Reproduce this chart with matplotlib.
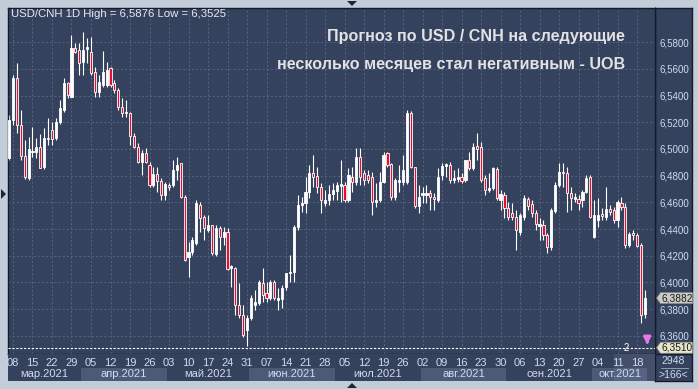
import matplotlib.pyplot as plt
import matplotlib.transforms as mtransforms
from matplotlib.patches import Polygon, Rectangle
import numpy as np
import pandas as pd

plt.rcParams['font.family'] = ['Liberation Sans', 'DejaVu Sans']

# daily candles USD/CNH, 05.03.2021 - 20.10.2021
dates = pd.bdate_range("2021-03-05", "2021-10-20")

opens = [
    6.4932, 6.5218, 6.5533, 6.5180, 6.4948, 6.4783, 6.4978, 6.4978, 6.5015, 6.4865,
    6.5075, 6.5143, 6.5083, 6.5203, 6.5293, 6.5495, 6.5390, 6.5758, 6.5743, 6.5653,
    6.5750, 6.5728, 6.5578, 6.5428, 6.5480, 6.5480, 6.5608, 6.5495, 6.5443, 6.5315,
    6.5270, 6.5270, 6.5098, 6.5015, 6.4903, 6.4970, 6.4880, 6.4730, 6.4813, 6.4760,
    6.4655, 6.4730, 6.4730, 6.4843, 6.4895, 6.4640, 6.4190, 6.4228, 6.4295, 6.4580,
    6.4490, 6.4393, 6.4430, 6.4213, 6.4408, 6.4340, 6.4378, 6.4108, 6.4108, 6.3830,
    6.3755, 6.3643, 6.3733, 6.3830, 6.3845, 6.3995, 6.3920, 6.3883, 6.4003, 6.3868,
    6.3875, 6.3965, 6.4070, 6.4078, 6.4415, 6.4580, 6.4595, 6.4678, 6.4820, 6.4798,
    6.4715, 6.4595, 6.4618, 6.4663, 6.4685, 6.4723, 6.4730, 6.4618, 6.4790, 6.4753,
    6.4940, 6.4820, 6.4805, 6.4790, 6.4603, 6.4618, 6.4753, 6.4970, 6.4888, 6.4640,
    6.4753, 6.4753, 6.4753, 6.5270, 6.4865, 6.4573, 6.4655, 6.4655, 6.4670, 6.4640,
    6.4618, 6.4805, 6.4873, 6.4880, 6.4768, 6.4775, 6.4790, 6.4768, 6.4918, 6.4858,
    6.5023, 6.5015, 6.4783, 6.4693, 6.4708, 6.4850, 6.4618, 6.4655, 6.4558, 6.4520,
    6.4490, 6.4378, 6.4490, 6.4625, 6.4588, 6.4520, 6.4423, 6.4430, 6.4355, 6.4265,
    6.4535, 6.4730, 6.4828, 6.4820, 6.4670, 6.4625, 6.4625, 6.4618, 6.4678, 6.4790,
    6.4340, 6.4468, 6.4513, 6.4490, 6.4550, 6.4543, 6.4468, 6.4595, 6.4565, 6.4280,
    6.4370, 6.4355, 6.4280, 6.3763,
]
highs = [
    6.5254, 6.5555, 6.5645, 6.5293, 6.5068, 6.5090, 6.5165, 6.5083, 6.5113, 6.5158,
    6.5233, 6.5203, 6.5233, 6.5368, 6.5533, 6.5503, 6.5855, 6.5795, 6.5795, 6.5876,
    6.5832, 6.5840, 6.5615, 6.5555, 6.5735, 6.5653, 6.5615, 6.5518, 6.5458, 6.5383,
    6.5368, 6.5278, 6.5120, 6.5045, 6.4993, 6.5008, 6.4903, 6.4865, 6.4865, 6.4783,
    6.4753, 6.4745, 6.4918, 6.4940, 6.4895, 6.4655, 6.4303, 6.4340, 6.4618, 6.4603,
    6.4505, 6.4505, 6.4430, 6.4430, 6.4423, 6.4415, 6.4408, 6.4130, 6.4115, 6.3995,
    6.3830, 6.3755, 6.3905, 6.3943, 6.4018, 6.4108, 6.4003, 6.4018, 6.4018, 6.3958,
    6.3980, 6.4070, 6.4205, 6.4430, 6.4655, 6.4640, 6.4790, 6.4880, 6.4955, 6.4865,
    6.4745, 6.4693, 6.4730, 6.4745, 6.4753, 6.4918, 6.4753, 6.4858, 6.4865, 6.5008,
    6.5008, 6.4843, 6.4843, 6.4828, 6.4745, 6.4828, 6.4978, 6.4978, 6.4895, 6.4783,
    6.4880, 6.4955, 6.5293, 6.5285, 6.4865, 6.4730, 6.4715, 6.4730, 6.4693, 6.4670,
    6.4858, 6.4895, 6.4895, 6.4903, 6.4843, 6.4858, 6.4820, 6.4918, 6.4978, 6.5045,
    6.5120, 6.5053, 6.4805, 6.4820, 6.4865, 6.4865, 6.4693, 6.4678, 6.4603, 6.4595,
    6.4543, 6.4520, 6.4655, 6.4640, 6.4618, 6.4543, 6.4483, 6.4468, 6.4370, 6.4558,
    6.4753, 6.4895, 6.4895, 6.4865, 6.4715, 6.4670, 6.4655, 6.4693, 6.4805, 6.4805,
    6.4618, 6.4633, 6.4558, 6.4715, 6.4580, 6.4565, 6.4618, 6.4640, 6.4595, 6.4378,
    6.4393, 6.4370, 6.4295, 6.3943,
]
lows = [
    6.4917, 6.5180, 6.5120, 6.4918, 6.4775, 6.4768, 6.4940, 6.4933, 6.4854, 6.4850,
    6.5030, 6.5030, 6.5068, 6.5188, 6.5278, 6.5383, 6.5390, 6.5720, 6.5555, 6.5555,
    6.5645, 6.5555, 6.5390, 6.5390, 6.5465, 6.5465, 6.5465, 6.5420, 6.5293, 6.5240,
    6.5240, 6.5030, 6.5008, 6.4895, 6.4805, 6.4895, 6.4715, 6.4715, 6.4678, 6.4618,
    6.4618, 6.4693, 6.4715, 6.4768, 6.4633, 6.4160, 6.4040, 6.4205, 6.4280, 6.4378,
    6.4318, 6.4378, 6.4205, 6.4198, 6.4243, 6.4280, 6.4093, 6.3963, 6.3755, 6.3733,
    6.3590, 6.3525, 6.3718, 6.3793, 6.3830, 6.3853, 6.3853, 6.3868, 6.3868, 6.3793,
    6.3808, 6.3943, 6.4003, 6.4003, 6.4393, 6.4528, 6.4520, 6.4633, 6.4715, 6.4670,
    6.4520, 6.4573, 6.4580, 6.4618, 6.4618, 6.4603, 6.4603, 6.4603, 6.4678, 6.4730,
    6.4730, 6.4730, 6.4745, 6.4505, 6.4565, 6.4603, 6.4745, 6.4865, 6.4618, 6.4618,
    6.4678, 6.4730, 6.4738, 6.4858, 6.4558, 6.4520, 6.4595, 6.4595, 6.4543, 6.4543,
    6.4603, 6.4768, 6.4790, 6.4745, 6.4745, 6.4753, 6.4745, 6.4753, 6.4843, 6.4843,
    6.4918, 6.4753, 6.4655, 6.4678, 6.4693, 6.4618, 6.4543, 6.4483, 6.4468, 6.4468,
    6.4243, 6.4355, 6.4468, 6.4543, 6.4490, 6.4393, 6.4318, 6.4318, 6.4220, 6.4243,
    6.4520, 6.4715, 6.4715, 6.4528, 6.4543, 6.4603, 6.4543, 6.4565, 6.4670, 6.4483,
    6.4333, 6.4415, 6.4468, 6.4468, 6.4505, 6.4445, 6.4415, 6.4543, 6.4258, 6.4265,
    6.4318, 6.4265, 6.3695, 6.3733,
]
closes = [
    6.5217, 6.5533, 6.5180, 6.4948, 6.4790, 6.5000, 6.4985, 6.5015, 6.4858, 6.5083,
    6.5083, 6.5075, 6.5203, 6.5308, 6.5495, 6.5405, 6.5758, 6.5728, 6.5645, 6.5743,
    6.5765, 6.5570, 6.5428, 6.5503, 6.5578, 6.5593, 6.5480, 6.5443, 6.5315, 6.5270,
    6.5278, 6.5098, 6.5015, 6.4903, 6.4970, 6.4903, 6.4730, 6.4813, 6.4760, 6.4655,
    6.4738, 6.4715, 6.4843, 6.4880, 6.4640, 6.4168, 6.4228, 6.4318, 6.4595, 6.4483,
    6.4408, 6.4430, 6.4220, 6.4408, 6.4340, 6.4378, 6.4100, 6.4123, 6.3830, 6.3755,
    6.3605, 6.3733, 6.3883, 6.3853, 6.4003, 6.3905, 6.3883, 6.4003, 6.3883, 6.3883,
    6.3958, 6.4070, 6.4078, 6.4415, 6.4580, 6.4595, 6.4678, 6.4820, 6.4790, 6.4715,
    6.4618, 6.4618, 6.4663, 6.4693, 6.4730, 6.4738, 6.4618, 6.4805, 6.4753, 6.4940,
    6.4790, 6.4768, 6.4768, 6.4603, 6.4618, 6.4753, 6.4955, 6.4880, 6.4640, 6.4768,
    6.4768, 6.4843, 6.5270, 6.4865, 6.4573, 6.4640, 6.4670, 6.4670, 6.4640, 6.4625,
    6.4790, 6.4873, 6.4888, 6.4768, 6.4783, 6.4790, 6.4760, 6.4918, 6.4858, 6.5015,
    6.5000, 6.4768, 6.4693, 6.4708, 6.4858, 6.4633, 6.4663, 6.4558, 6.4490, 6.4490,
    6.4393, 6.4505, 6.4633, 6.4573, 6.4520, 6.4438, 6.4438, 6.4355, 6.4265, 6.4543,
    6.4730, 6.4828, 6.4820, 6.4670, 6.4633, 6.4640, 6.4595, 6.4678, 6.4783, 6.4490,
    6.4505, 6.4505, 6.4498, 6.4550, 6.4528, 6.4468, 6.4603, 6.4565, 6.4280, 6.4363,
    6.4355, 6.4273, 6.3755, 6.3882,
]

price_ticks = [6.36, 6.38, 6.40, 6.42, 6.44, 6.46, 6.48, 6.50, 6.52, 6.54, 6.56, 6.58]
month_names = ["мар.2021", "апр.2021", "май.2021", "июн.2021",
               "июл.2021", "авг.2021", "сен.2021", "окт.2021"]
last_price = 6.3882
low_line = 6.3510
title = "USD/CNH 1D High = 6,5876 Low = 6,3525"
headline = ["Прогноз по USD / CNH на следующие",
            "несколько месяцев стал негативным - UOB"]
bars_count = "2948"
bars_shown = ">166<"

BG = '#35425e'
FRAME = '#c3cdd9'
GRID = '#5a6783'
TXT = '#cfdbee'
RED = '#e5102e'

W, H = 698, 389


def fbox(x0, y0, x1, y1):
    # pixel box (top-left origin) -> figure fraction rect
    return [x0 / W, 1 - y1 / H, (x1 - x0) / W, (y1 - y0) / H]


fig = plt.figure(figsize=(W / 100, H / 100), dpi=100, facecolor=FRAME)

# right price panel and bottom-right counter panel (behind the main axes)
rax = fig.add_axes(fbox(655, 8, 692, 381))
rax.set_facecolor(BG)
rax.set_xticks([])
rax.set_yticks([])
for s in rax.spines.values():
    s.set_color('#151b28')
    s.set_linewidth(1)
rax.axhline(354, color='#151b28', lw=1)
rax.text(0.5, 361.5, bars_count, ha='center', va='center', color=TXT, fontsize=7.5)
rax.plot([0.15, 0.88], [368, 368], color='#8f9bb3', lw=0.7)
rax.text(0.5, 375, bars_shown, ha='center', va='center', color=TXT, fontsize=7.5)
rax.set_xlim(0, 1)
rax.set_ylim(381, 8)

x = np.arange(len(dates))
xlim = (-0.28, 165.6)
ylim = (6.3463, 6.6057)

ax = fig.add_axes(fbox(8, 8, 655, 354))
ax.set_facecolor(BG)
ax.set_xlim(*xlim)
ax.set_ylim(*ylim)

mondays = x[dates.weekday == 0]
ax.set_xticks(mondays)
ax.set_xticklabels([])
ax.set_yticks(price_ticks)
ax.yaxis.tick_right()
ax.set_yticklabels([f"{v:.4f}".replace('.', ',') for v in price_ticks])
ax.tick_params(axis='y', length=0, pad=3, labelsize=7, labelcolor=TXT)
ax.tick_params(axis='x', length=0)
ax.grid(True, color=GRID, ls=(0, (2.5, 2.5)), lw=0.6)
ax.set_axisbelow(True)
for s in ax.spines.values():
    s.set_color('#151b28')
    s.set_linewidth(1)

o = np.array(opens)
c = np.array(closes)
hi = np.array(highs)
lo = np.array(lows)
up = c >= o
body_lo = np.minimum(o, c)
body_h = np.maximum(np.abs(c - o), 0.0004)

ax.vlines(x, lo, hi, color='white', lw=0.8, zorder=2)
ax.bar(x, body_h, bottom=body_lo, width=0.55,
       color=np.where(up, 'white', RED), edgecolor='white', linewidth=0.6, zorder=3)

# minimum marker line
ax.axhline(low_line, color='white', ls=(0, (2, 1.5)), lw=0.8, zorder=4)
ax.text(158.2, low_line, "2", color='white', fontsize=7, ha='center', va='center', zorder=5)
ax.annotate('', xy=(163.6, low_line + 0.0003), xytext=(163.6, low_line + 0.0068),
            arrowprops=dict(arrowstyle='-|>', color='#e878e8', lw=2.0, mutation_scale=10),
            zorder=5)

# price tags on the right axis
tr = mtransforms.blended_transform_factory(ax.transAxes, ax.transData)
px = (ylim[1] - ylim[0]) / 346
for val, fc in [(last_price, '#c9cbc9'), (low_line, '#e6e6cc')]:
    hh = 5.5 * px
    x0, x1, xt = 1.0025, 1.058, 1.0085
    poly = Polygon([(x0, val), (xt, val + hh), (x1, val + hh), (x1, val - hh), (xt, val - hh)],
                   closed=True, transform=tr, facecolor=fc, edgecolor='#8a8a80', lw=0.5,
                   clip_on=False, zorder=6)
    ax.add_patch(poly)
    ax.text(1.0105, val, f"{val:.4f}".replace('.', ','), transform=tr, color='#1b1b1b',
            fontsize=7.3, ha='left', va='center', clip_on=False, zorder=7)

ax.text(0.004, 1 - 6 / 346, title, transform=ax.transAxes, color='#e8eaf0', fontsize=8.2,
        ha='left', va='center')
ax.text(0.954, 1 - 28 / 346, headline[0], transform=ax.transAxes, color='#e2e2e4',
        fontsize=11.6, fontweight='bold', ha='right', va='center')
ax.text(0.954, 1 - 56 / 346, headline[1], transform=ax.transAxes, color='#e2e2e4',
        fontsize=11.6, fontweight='bold', ha='right', va='center')

# date axis panel
xax = fig.add_axes(fbox(8, 354, 655, 381))
xax.set_facecolor(BG)
xax.set_xlim(*xlim)
xax.set_ylim(0, 1)
xax.set_xticks([])
xax.set_yticks([])
for s in xax.spines.values():
    s.set_visible(False)
for xi in mondays:
    xax.text(xi, 1 - 8.5 / 27, f"{dates[xi].day:02d}", color=TXT, fontsize=8,
             ha='center', va='center')
months = dates.to_period('M')
for k, m in enumerate(months.unique()):
    idx = x[months == m]
    a = max(idx[0] - 0.5, xlim[0])
    b = min(idx[-1] + 0.5, xlim[1])
    if k % 2 == 1:
        xax.add_patch(Rectangle((a, 0), b - a, 13.5 / 27, facecolor='#4c5a78', lw=0))
    xax.text((a + b) / 2, 1 - 20 / 27, month_names[k], color=TXT, fontsize=8,
             ha='center', va='center')
xax.add_patch(Rectangle((155.1, 0), xlim[1] - 155.1, 1, facecolor='#8a94aa', alpha=0.18, lw=0))

# frame arrows
deco = fig.add_axes([0, 0, 1, 1], facecolor='none')
deco.set_xlim(0, W)
deco.set_ylim(H, 0)
deco.axis('off')
deco.add_patch(Polygon([(347, 1), (357, 1), (352, 6)], facecolor='#1d2638'))
deco.add_patch(Polygon([(347, 388), (357, 388), (352, 383)], facecolor='#1d2638'))
deco.add_patch(Polygon([(1, 189), (1, 199), (6, 194)], facecolor='#1d2638'))

fig.savefig("out.png", dpi=100, facecolor=FRAME)
